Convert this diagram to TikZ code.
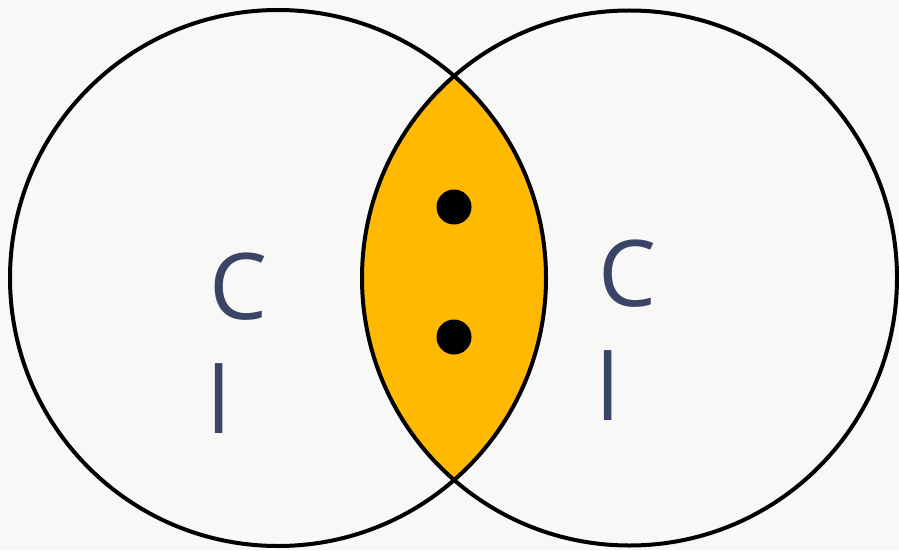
\documentclass[tikz,border=0pt]{standalone}
\usepackage{fontspec}
\setmainfont{Open Sans}
\definecolor{bg}{HTML}{F8F8F7}
\definecolor{lens}{HTML}{FFB900}
\definecolor{txt}{HTML}{3A4466}
\tikzset{
  ring/.style={draw=black, line width=4pt},
  lbl/.style={text=txt, font=\fontsize{92}{110}\selectfont, inner sep=0pt, anchor=base},
  dot/.style={fill=black}
}
\begin{document}
\begin{tikzpicture}[x=1pt,y=1pt]
\fill[bg] (0,0) rectangle (899,550);
\useasboundingbox (0,0) rectangle (899,550);
\coordinate (cl) at (278,272);
\coordinate (cr) at (629.5,272);
\begin{scope}
  \clip (cl) circle (268);
  \fill[lens] (cr) circle (267.5);
\end{scope}
\draw[ring] (cl) circle (268);
\draw[ring] (cr) circle (267.5);
\fill[dot] (454,343) circle (17.5);
\fill[dot] (454,213) circle (17.5);
\node[lbl] (c1) at (239,231) {C};
\node[lbl] (l1) at (219.5,117) {l};
\node[lbl] (c2) at (628,244) {C};
\node[lbl] (l2) at (608.5,130) {l};
\end{tikzpicture}
\end{document}
